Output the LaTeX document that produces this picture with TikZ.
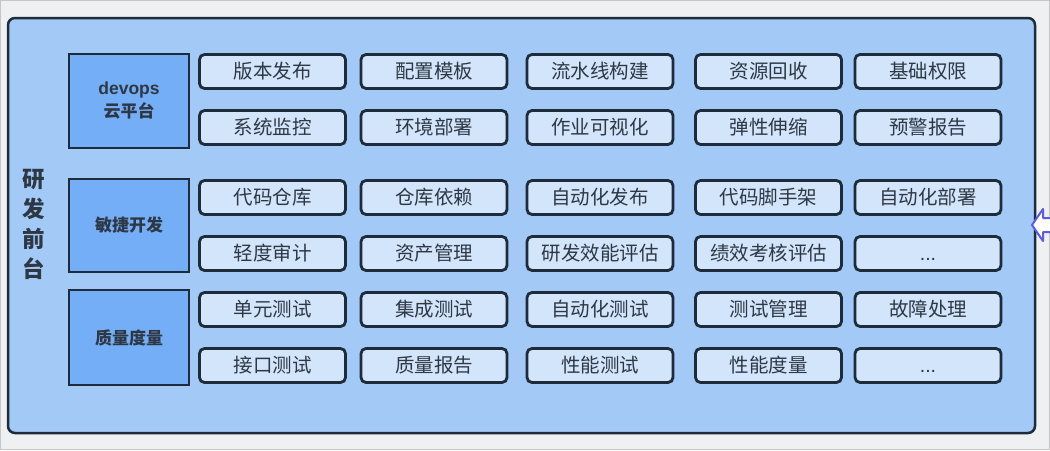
\documentclass[tikz,border=0pt]{standalone}
\usepackage{fontspec}
\setmainfont{Noto Sans CJK SC}
\newfontfamily\latinf{Liberation Sans}
\definecolor{bgc}{HTML}{EEF0F2}
\definecolor{edgec}{HTML}{C4C6C8}
\definecolor{panelc}{HTML}{A3C9F7}
\definecolor{catc}{HTML}{74AEF6}
\definecolor{cellc}{HTML}{D3E5FB}
\definecolor{linec}{HTML}{1E2B3A}
\definecolor{txtc}{HTML}{2E3845}
\definecolor{arrc}{HTML}{5A5CEB}
\newcommand{\tdots}{\vphantom{版}{\latinf ...}}
\tikzset{
  cell/.style={draw=linec, line width=2.8pt, fill=cellc, rounded corners=5pt,
    minimum width=146pt, minimum height=34pt, inner sep=0pt, text=txtc,
    font=\fontsize{19.5}{22}\selectfont},
  cat/.style={draw=linec, line width=2.5pt, fill=catc, minimum width=120pt,
    inner sep=0pt, text=txtc, align=center,
    font=\bfseries\fontsize{17}{23}\selectfont},
}
\begin{document}
\begin{tikzpicture}[x=1pt,y=-1pt]
\useasboundingbox (0,0) rectangle (1050,450);
\fill[bgc] (0,0) rectangle (1050,450);
\draw[edgec, line width=1pt] (0.5,0.5) rectangle (1049.5,449.5);
\draw[linec, line width=2.5pt, fill=panelc, rounded corners=7pt] (8,18) rectangle (1035,433);
\node[text=txtc, align=center, font=\bfseries\fontsize{22.5}{30}\selectfont] (side) at (34,224) {研\\发\\前\\台};
% categories
\node[cat, minimum height=94pt] (c1) at (129,101) {{\latinf\bfseries\fontsize{17.5}{23}\selectfont devops}\\云平台};
\node[cat, minimum height=93pt] (c2) at (129,225.5) {敏捷开发};
\node[cat, minimum height=95pt] (c3) at (129,337.5) {质量度量};
% cells
\foreach \r/\y/\a/\b/\c/\d/\e in {
 1/71.5/版本发布/配置模板/流水线构建/资源回收/基础权限,
 2/127.5/系统监控/环境部署/作业可视化/弹性伸缩/预警报告,
 3/197.5/代码仓库/仓库依赖/自动化发布/代码脚手架/自动化部署,
 4/253.5/轻度审计/资产管理/研发效能评估/绩效考核评估/\tdots,
 5/309.5/单元测试/集成测试/自动化测试/测试管理/故障处理,
 6/365.5/接口测试/质量报告/性能测试/性能度量/\tdots}{
  \node[cell] (r\r a) at (272.5,\y) {\a};
  \node[cell] (r\r b) at (434,\y) {\b};
  \node[cell] (r\r c) at (600,\y) {\c};
  \node[cell] (r\r d) at (768.5,\y) {\d};
  \node[cell] (r\r e) at (928,\y) {\e};
}
% partial arrow at right edge
\draw[arrc, line width=2pt, fill=white, line join=round]
  (1052,218) -- (1043,218) -- (1043,209) -- (1032,225) -- (1043,241) -- (1043,232) -- (1052,232);
\end{tikzpicture}
\end{document}
